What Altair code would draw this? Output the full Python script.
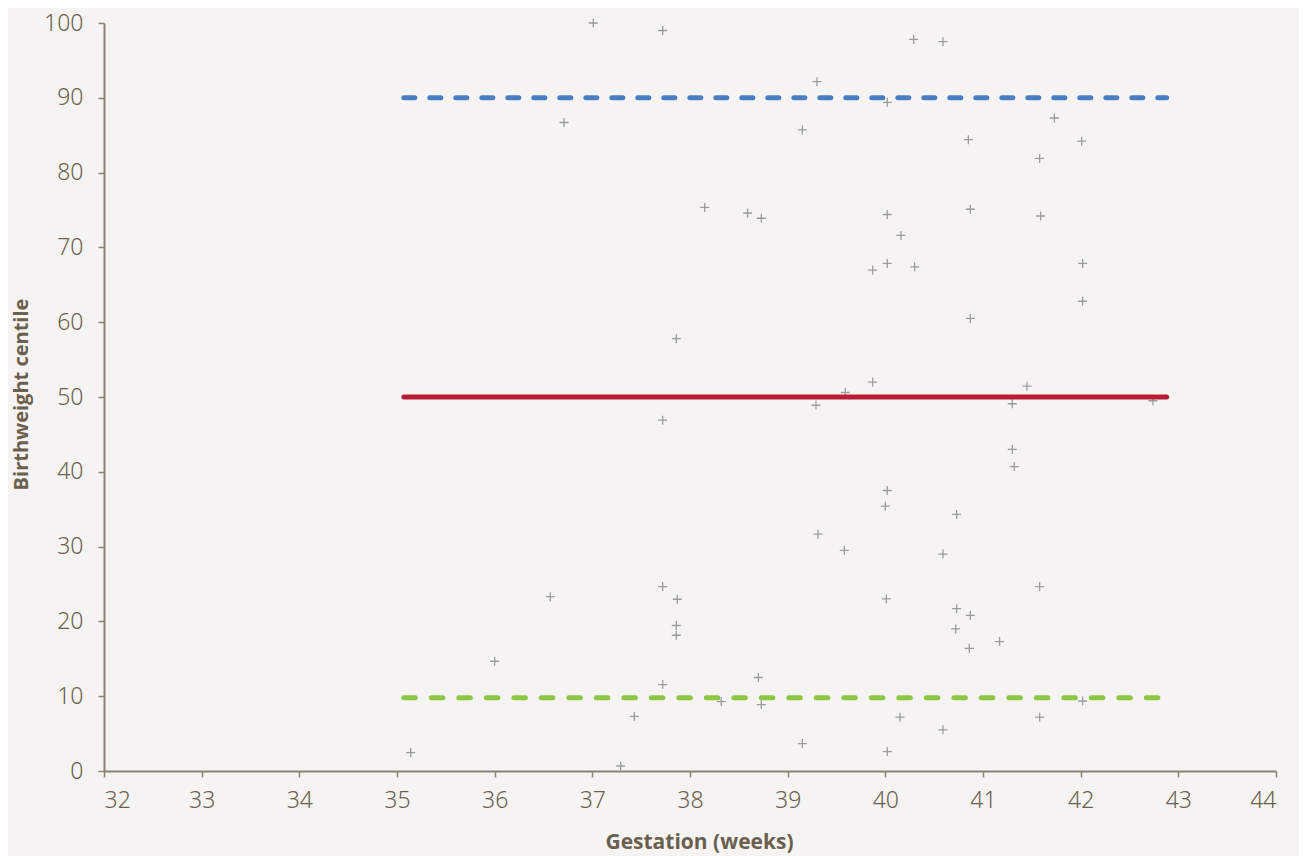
import altair as alt
import pandas as pd

# Scatter points: gestation (weeks) and birthweight centile
gestation = [37.01, 37.72, 36.71, 38.15, 38.59, 38.73,
             40.29, 40.59, 39.30, 40.02, 39.15, 41.73, 40.85, 42.01, 41.58,
             40.02, 40.87, 41.59, 40.16,
             39.87, 40.02, 40.30, 42.02, 42.02, 40.87, 39.87, 39.59, 39.29,
             41.45, 41.30, 42.74, 41.30, 41.32, 40.02, 40.00,
             37.86, 37.72,
             40.73, 39.31, 39.58, 40.59, 41.58, 40.01, 40.73, 40.87, 40.72,
             41.17, 40.86, 42.02, 40.15, 41.58, 40.59, 39.15, 40.02,
             36.57, 37.72, 37.87, 37.86, 37.86, 36.00, 37.72, 38.70, 38.32,
             38.73, 37.43, 35.14, 37.29]
centile = [100.0, 99.0, 86.7, 75.35, 74.6, 73.9,
           97.8, 97.5, 92.15, 89.4, 85.7, 87.3, 84.4, 84.2, 81.9,
           74.4, 75.1, 74.2, 71.6,
           66.97, 67.86, 67.4, 67.86, 62.8, 60.5, 52.0, 50.6, 48.9,
           51.45, 49.1, 49.5, 43.0, 40.7, 37.5, 35.4,
           57.8, 46.9,
           34.3, 31.66, 29.5, 29.0, 24.66, 23.0, 21.7, 20.8, 19.0,
           17.3, 16.4, 9.36, 7.2, 7.2, 5.5, 3.66, 2.6,
           23.3, 24.66, 22.96, 19.45, 18.15, 14.67, 11.55, 12.5, 9.28,
           8.88, 7.3, 2.46, 0.67]

# Reference centile lines
ref_names = ["90th", "50th", "10th"]
ref_values = [90.0, 50.0, 9.8]
ref_colors = ["#4a7cc3", "#b71c33", "#8dc641"]
ref_dashes = [[11, 15], [1, 0], [11.5, 16]]
ref_start = 35.07
ref_end = 42.88

x_ticks = list(range(32, 45))
y_ticks = list(range(0, 101, 10))

TEXT = "#6b5f4f"
AXIS = "#8c8272"

pts = pd.DataFrame({"gestation": gestation, "centile": centile})

xscale = alt.Scale(domain=[32, 44], nice=False, zero=False)
yscale = alt.Scale(domain=[0, 100], nice=False, zero=False)

xaxis = alt.Axis(values=x_ticks, format="d", title="Gestation (weeks)", grid=False,
                 labelFont="Noto Sans", labelFontSize=23, labelColor=TEXT,
                 labelFontWeight=300, labelPadding=12,
                 tickSize=6, tickColor=AXIS, tickWidth=1.5,
                 domainColor=AXIS, domainWidth=2,
                 titleFont="Open Sans", titleFontSize=21, titleFontWeight="bold",
                 titleColor=TEXT, titleX=595, titleY=71, titleBaseline="middle",
                 titleAnchor="start", titleAlign="center")
yaxis = alt.Axis(values=y_ticks, format="d", title="Birthweight centile", grid=False,
                 labelFont="Noto Sans", labelFontSize=23, labelColor=TEXT,
                 labelFontWeight=300, labelPadding=15,
                 tickSize=6, tickColor=AXIS, tickWidth=1.5,
                 domainColor=AXIS, domainWidth=2,
                 titleFont="Open Sans", titleFontSize=20, titleFontWeight="bold",
                 titleColor=TEXT, titleX=-83, titleY=371, titleBaseline="middle",
                 titleAngle=270, titleAlign="center")

points = alt.Chart(pts).mark_point(
    shape="M-1,0L1,0M0,-1L0,1", size=81, filled=False,
    stroke="#9b9b9b", strokeWidth=1.3, opacity=1
).encode(
    x=alt.X("gestation:Q", scale=xscale, axis=xaxis),
    y=alt.Y("centile:Q", scale=yscale, axis=yaxis),
)

layers = [points]
for name, val, col, dash in zip(ref_names, ref_values, ref_colors, ref_dashes):
    df = pd.DataFrame({"gestation": [ref_start, ref_end], "centile": [val, val], "name": [name, name]})
    ln = alt.Chart(df).mark_line(
        color=col, strokeWidth=5, strokeCap="round", strokeDash=dash
    ).encode(
        x=alt.X("gestation:Q", scale=xscale),
        y=alt.Y("centile:Q", scale=yscale),
    )
    layers.append(ln)

chart = alt.layer(*layers).properties(
    width=1172, height=748,
    autosize=alt.AutoSizeParams(type="none"),
    padding={"left": 96, "top": 15, "right": 23, "bottom": 90},
    background="#f5f4f2",
).configure_view(stroke=None)

chart.save("out.html", embed_options={"renderer": "svg", "actions": False})
